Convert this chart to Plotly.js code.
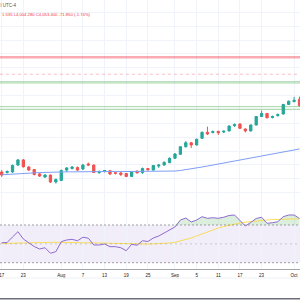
<!DOCTYPE html>
<html>
<head>
<meta charset="utf-8">
<script src="https://cdn.plot.ly/plotly-3.0.1.min.js"></script>
<style>html,body{margin:0;padding:0;background:#fff;}#chart{width:300px;height:300px;}</style>
</head>
<body>
<div id="chart"></div>
<script>
var dates = ['2025-07-17','2025-07-18','2025-07-21','2025-07-22','2025-07-23','2025-07-24','2025-07-25','2025-07-28','2025-07-29','2025-07-30','2025-07-31','2025-08-01','2025-08-04','2025-08-05','2025-08-06','2025-08-07','2025-08-08','2025-08-11','2025-08-12','2025-08-13','2025-08-14','2025-08-15','2025-08-18','2025-08-19','2025-08-20','2025-08-21','2025-08-22','2025-08-25','2025-08-26','2025-08-27','2025-08-28','2025-08-29','2025-09-01','2025-09-02','2025-09-03','2025-09-04','2025-09-05','2025-09-08','2025-09-09','2025-09-10','2025-09-11','2025-09-12','2025-09-15','2025-09-16','2025-09-17','2025-09-18','2025-09-19','2025-09-22','2025-09-23','2025-09-24','2025-09-25','2025-09-26','2025-09-29','2025-09-30','2025-10-01','2025-10-02'];
var openP  = [3349,3345,3349,3399,3436,3385,3367,3335,3313,3327,3277,3288,3363,3374,3381,3371,3407,3399,3345,3355,3358,3344,3342,3338,3317,3355,3345,3374,3363,3392,3399,3416,3448,3477,3531,3560,3544,3592,3635,3634,3642,3637,3645,3683,3695,3659,3645,3688,3749,3771,3742,3755,3767,3836,3857,3873];
var highP  = [3363,3360,3403,3443,3443,3392,3371,3342,3335,3331,3302,3367,3385,3392,3389,3407,3417,3403,3360,3363,3363,3349,3349,3342,3356,3360,3381,3378,3399,3407,3425,3454,3486,3536,3572,3565,3590,3641,3676,3648,3646,3648,3684,3699,3699,3663,3691,3753,3792,3774,3756,3771,3839,3864,3891,3892];
var lowP   = [3313,3338,3343,3394,3381,3356,3324,3313,3306,3270,3266,3284,3349,3367,3356,3363,3392,3342,3335,3345,3327,3331,3320,3313,3313,3338,3335,3360,3360,3378,3396,3414,3444,3472,3526,3522,3540,3587,3616,3627,3616,3630,3641,3673,3659,3634,3641,3684,3745,3735,3735,3749,3763,3832,3851,3821];
var closeP = [3327,3353,3396,3436,3387,3363,3331,3320,3327,3277,3295,3360,3378,3385,3363,3399,3399,3345,3353,3360,3335,3340,3331,3317,3351,3343,3374,3365,3396,3399,3419,3448,3479,3531,3560,3544,3585,3635,3623,3641,3632,3643,3681,3691,3664,3645,3688,3749,3771,3740,3749,3763,3836,3859,3866,3827];
var maLine = [3329,3332,3335,3338,3340,3342,3343,3345,3346,3348,3348,3349,3350,3350,3351,3352,3353,3353,3353,3353,3353,3353,3352,3352,3352,3352,3352,3352,3352,3353,3353,3355,3356,3360,3365,3371,3378,3385,3392,3399,3407,3414,3421,3428,3436,3443,3450,3457,3464,3470,3477,3484,3491,3498,3506,3515];
var rsi = [51.2,51.4,57.3,62.9,55.1,51.4,47.2,44.5,45.9,40.0,41.7,52.3,54.1,54.8,53.3,57.0,56.0,48.8,48.8,49.8,47.0,47.0,45.9,42.7,49.5,48.5,53.3,52.5,56.2,58.3,61.5,65.2,67.9,75.3,77.4,73.2,75.3,78.8,77.1,77.7,77.1,78.2,80.1,80.6,74.2,68.9,72.7,76.9,78.2,71.8,72.4,73.5,78.8,80.6,80.6,76.9];
var rsiMa = [50.4,50.6,50.7,50.9,51.1,51.3,51.4,51.5,51.6,51.6,51.6,51.6,51.5,51.4,51.4,51.3,51.2,51.1,50.9,50.8,50.6,50.4,50.3,50.1,50.0,49.8,49.8,49.8,50.0,50.2,50.5,50.9,51.6,53.0,54.6,56.2,58.3,60.5,62.6,64.7,66.8,68.4,69.8,71.1,72.1,73.0,73.7,74.2,74.8,75.3,75.7,76.0,76.3,76.4,76.5,76.6];
var tickDates = ['2025-07-17','2025-07-23','2025-08-01','2025-08-07','2025-08-13','2025-08-19','2025-08-25','2025-09-01','2025-09-05','2025-09-11','2025-09-17','2025-09-23','2025-10-01'];
var tickLabels = ['17','23','Aug','7','13','19','25','Sep','5','11','17','23','Oct'];
var redLevel = 4176;
var lastPrice = 4053.4;
var greenLevel = 3995;
var greenZone = [3820, 3801];
var rsiBands = [70, 50, 30];
var headerTop = 'l UTC-4';
var headerOHLC = '1.535 L4,004.280 C4,053.400 -71.850 (-1.74%)';

var FONT = 'Liberation Sans, Arial, sans-serif';
var rsiBase = dates.map(function(){ return rsiBands[0]; });
var rsiOver = rsi.map(function(v){ return Math.max(v, rsiBands[0]); });

var traces = [
  {type:'candlestick', x:dates, open:openP, high:highP, low:lowP, close:closeP, xaxis:'x', yaxis:'y',
   increasing:{line:{color:'#26a69a', width:1}, fillcolor:'#26a69a'},
   decreasing:{line:{color:'#ef5350', width:1}, fillcolor:'#ef5350'},
   whiskerwidth:0, hoverinfo:'skip'},
  {type:'scatter', mode:'lines', x:dates, y:maLine, xaxis:'x', yaxis:'y', line:{color:'#7f9ef5', width:1}, hoverinfo:'skip'},
  {type:'scatter', mode:'lines', x:dates, y:rsiBase, xaxis:'x', yaxis:'y2', line:{width:0, color:'rgba(0,0,0,0)'}, hoverinfo:'skip'},
  {type:'scatter', mode:'lines', x:dates, y:rsiOver, xaxis:'x', yaxis:'y2', fill:'tonexty', fillcolor:'rgba(76,175,80,0.2)', line:{width:0, color:'rgba(0,0,0,0)'}, hoverinfo:'skip'},
  {type:'scatter', mode:'lines', x:dates, y:rsiMa, xaxis:'x', yaxis:'y2', line:{color:'#f7dc5a', width:1}, hoverinfo:'skip'},
  {type:'scatter', mode:'lines', x:dates, y:rsi, xaxis:'x', yaxis:'y2', line:{color:'#8e6ad0', width:1}, hoverinfo:'skip'}
];

var shapes = [
  {type:'rect', xref:'paper', x0:0, x1:1, yref:'y2', y0:rsiBands[2], y1:rsiBands[0], fillcolor:'rgba(126,87,194,0.1)', line:{width:0}, layer:'below'},
  {type:'line', xref:'paper', x0:0, x1:1, yref:'y2', y0:rsiBands[0], y1:rsiBands[0], line:{color:'rgba(120,123,134,0.7)', width:1, dash:'2px,2px'}},
  {type:'line', xref:'paper', x0:0, x1:1, yref:'y2', y0:rsiBands[1], y1:rsiBands[1], line:{color:'rgba(120,123,134,0.35)', width:1, dash:'2px,3px'}},
  {type:'line', xref:'paper', x0:0, x1:1, yref:'y2', y0:rsiBands[2], y1:rsiBands[2], line:{color:'rgba(120,123,134,0.7)', width:1, dash:'2px,2px'}},
  {type:'line', xref:'paper', x0:0, x1:1, yref:'y', y0:redLevel, y1:redLevel, line:{color:'rgba(242,54,69,0.42)', width:2.5}},
  {type:'line', xref:'paper', x0:0, x1:1, yref:'y', y0:lastPrice, y1:lastPrice, line:{color:'rgba(242,54,69,0.3)', width:1, dash:'3px,3px'}},
  {type:'line', xref:'paper', x0:0, x1:1, yref:'y', y0:greenLevel, y1:greenLevel, line:{color:'rgba(76,175,80,0.32)', width:2.7}},
  {type:'line', xref:'paper', x0:0, x1:1, yref:'y', y0:greenZone[0], y1:greenZone[0], line:{color:'rgba(76,175,80,0.5)', width:1}},
  {type:'line', xref:'paper', x0:0, x1:1, yref:'y', y0:greenZone[1], y1:greenZone[1], line:{color:'rgba(76,175,80,0.5)', width:1}},
  {type:'line', xref:'paper', x0:0, x1:1, yref:'paper', y0:0.0733, y1:0.0733, line:{color:'#eef0f5', width:1}},
  {type:'line', xref:'paper', x0:0, x1:1, yref:'paper', y0:0.004, y1:0.004, line:{color:'#6b6e78', width:1.5}}
];

var layout = {
  width:300, height:300, margin:{l:0,r:0,t:0,b:0},
  paper_bgcolor:'#ffffff', plot_bgcolor:'#ffffff', showlegend:false,
  hovermode:false, boxgap:0.4,
  font:{family:FONT},
  title:{text:headerTop, xref:'paper', yref:'paper', x:0.002, xanchor:'left', y:1-5/300, yanchor:'middle',
         pad:{t:0,b:0,l:0,r:0}, font:{size:4.5, color:'#50535e', family:FONT}},
  xaxis:{type:'category', range:[-0.314, 55.09], anchor:'y2', tickvals:tickDates, ticktext:tickLabels,
         ticks:'', ticklabelstandoff:2, tickfont:{size:4.5, color:'#131722', family:FONT}, showgrid:true, gridcolor:'#f0f3fa', gridwidth:1,
         showline:true, linecolor:'#a3a6af', linewidth:1, zeroline:false, rangeslider:{visible:false}},
  yaxis:{domain:[0.3333,1], range:[3147.2,4588.6], tick0:0, dtick:100, showticklabels:false, ticks:'',
         showgrid:true, gridcolor:'#f0f3fa', gridwidth:1, zeroline:false},
  yaxis2:{domain:[0.105,0.3333], range:[23.85,96.5], showticklabels:false, showgrid:false, zeroline:false, ticks:''},
  shapes:shapes,
  annotations:[
    {xref:'paper', yref:'paper', x:0.002, y:1-14.5/300, xanchor:'left', yanchor:'middle', align:'left', showarrow:false, text:headerOHLC,
     font:{size:4.2, color:'#f23645', family:FONT}, borderpad:0}
  ]
};

Plotly.newPlot('chart', traces, layout, {staticPlot:true, displayModeBar:false});
</script>
</body>
</html>
